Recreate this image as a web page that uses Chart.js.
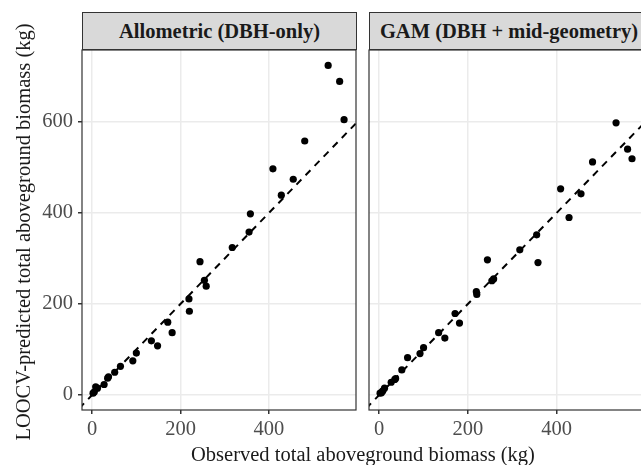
<!DOCTYPE html>
<html>
<head>
<meta charset="utf-8">
<script src="https://cdn.jsdelivr.net/npm/chart.js@4.4.1/dist/chart.umd.min.js"></script>
<style>
html, body { margin: 0; padding: 0; background: #fff; overflow: hidden; }
#wrap { position: relative; width: 641px; height: 465px; overflow: hidden; font-family: 'Liberation Serif', 'Times New Roman', serif; }
canvas { position: absolute; top: 0; }
.strip { position: absolute; top: 12px; height: 38px; box-sizing: border-box; border: 1px solid #333; background: #d9d9d9;
         font-weight: bold; font-size: 20.5px; color: #1a1a1a; text-align: center; line-height: 36px; white-space: nowrap; }
.ytitle { position: absolute; left: 23px; top: 232px; width: 460px; margin-left: -230px; margin-top: -12px; height: 24px; line-height: 24px;
          text-align: center; font-size: 20.5px; color: #1a1a1a; transform: rotate(-90deg); white-space: nowrap; }
.xtitle { position: absolute; left: 63px; width: 600px; top: 442px; height: 24px; line-height: 24px; text-align: center;
          font-size: 20.5px; color: #1a1a1a; white-space: nowrap; }
</style>
</head>
<body>
<div id="wrap">
    <canvas id="allomChart" width="357" height="465" style="left:0px"></canvas>
    <canvas id="gamChart" width="277" height="465" style="left:368px"></canvas>
    <div class="strip" style="left:82px; width:275px;">Allometric (DBH-only)</div>
    <div class="strip" style="left:369px; width:280px;">GAM (DBH + mid-geometry)</div>
    <div class="ytitle">LOOCV-predicted total aboveground biomass (kg)</div>
    <div class="xtitle">Observed total aboveground biomass (kg)</div>
</div>
<script>
// data terbaca dari gambar (kg)
const obsKg     = [2, 5, 8, 12, 27, 35, 37, 51, 64, 92, 100, 134, 148, 171, 181, 219, 220, 244, 254, 258, 317, 355, 358, 409, 428, 455, 481, 534, 560, 570];
const allomPred = [4, 7, 18, 15, 23, 37, 40, 50, 63, 75, 92, 119, 108, 160, 137, 211, 184, 293, 252, 239, 324, 358, 398, 497, 439, 474, 558, 724, 689, 605];
const gamPred   = [4, 5, 9, 15, 28, 34, 36, 55, 82, 91, 104, 137, 125, 179, 158, 227, 221, 297, 251, 255, 319, 352, 291, 453, 390, 442, 512, 598, 540, 519];
const xTicks = [0, 200, 400];
const yTicks = [0, 200, 400, 600];
const oneToOne = [-50, 800]; // garis 1:1

const FONT = "'Liberation Serif', 'Times New Roman', serif";

// border panel ala theme_bw
const panelBorder = {
    id: 'panelBorder',
    afterDraw(chart) {
        const { ctx, chartArea: a } = chart;
        ctx.save();
        ctx.strokeStyle = '#333333';
        ctx.lineWidth = 1.2;
        ctx.strokeRect(a.left, a.top, a.right - a.left, a.bottom - a.top);
        ctx.restore();
    }
};

function makePanel(id, pred, showY, padLeft) {
    const ctx = document.getElementById(id).getContext('2d');
    return new Chart(ctx, {
        type: 'scatter',
        data: {
            datasets: [
                {
                    data: obsKg.map((x, i) => ({ x: x, y: pred[i] })),
                    backgroundColor: '#000',
                    borderWidth: 0,
                    pointRadius: 3.6,
                    order: 0
                },
                {
                    type: 'line',
                    data: oneToOne.map(v => ({ x: v, y: v })),
                    borderColor: '#000',
                    borderWidth: 2,
                    borderDash: [7, 6],
                    pointRadius: 0,
                    fill: false,
                    order: 1
                }
            ]
        },
        options: {
            responsive: false,
            animation: false,
            layout: { autoPadding: false, padding: { top: 50, right: 1, left: padLeft, bottom: 0 } },
            plugins: { legend: { display: false }, tooltip: { enabled: false } },
            scales: {
                x: {
                    type: 'linear', min: -23, max: 597,
                    afterBuildTicks: s => { s.ticks = xTicks.map(v => ({ value: v })); },
                    afterFit: s => { s.height = 55; },
                    border: { display: false },
                    grid: { color: '#ebebeb', lineWidth: 1.5, tickColor: '#333', tickLength: 4 },
                    ticks: { color: '#4d4d4d', padding: 3, maxRotation: 0, font: { family: FONT, size: 20.5 } }
                },
                y: {
                    type: 'linear', min: -33, max: 758,
                    afterBuildTicks: s => { s.ticks = yTicks.map(v => ({ value: v })); },
                    afterFit: s => { s.width = showY ? 82 : 0; },
                    border: { display: false },
                    grid: { color: '#ebebeb', lineWidth: 1.5, tickColor: '#333', tickLength: showY ? 4 : 0, drawTicks: showY },
                    ticks: { display: showY, color: '#4d4d4d', padding: 5, font: { family: FONT, size: 20.5 } }
                }
            }
        },
        plugins: [panelBorder]
    });
}

makePanel('allomChart', allomPred, true, 0);
makePanel('gamChart', gamPred, false, 1);
</script>
</body>
</html>
